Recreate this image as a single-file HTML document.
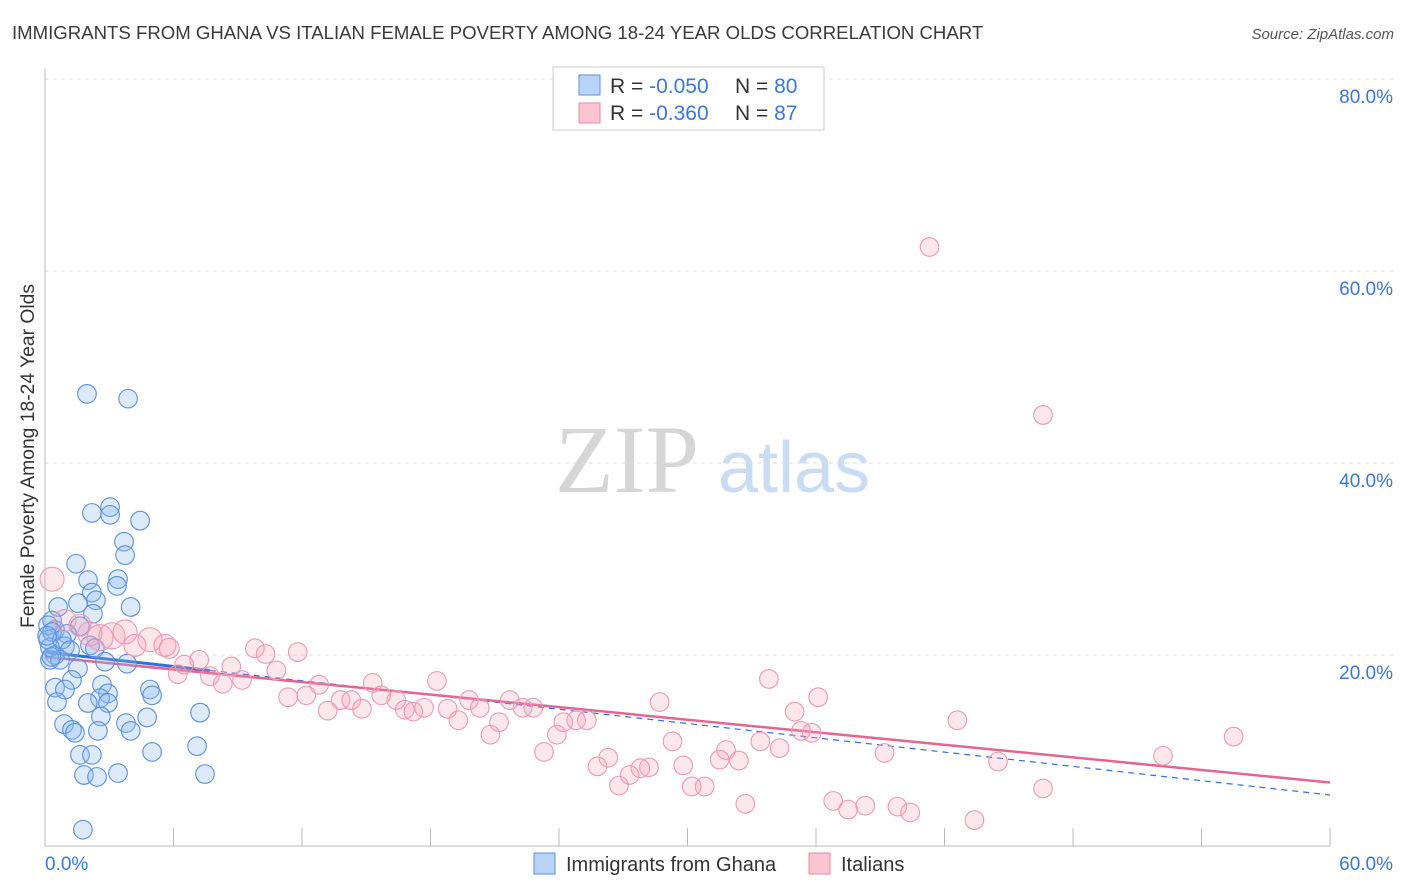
<!DOCTYPE html>
<html><head><meta charset="utf-8"><style>
body{margin:0;background:#fff;font-family:"Liberation Sans",sans-serif;}
svg{display:block}
</style></head><body>
<svg id="chart" width="1406" height="892" xmlns="http://www.w3.org/2000/svg">
<text x="12" y="39" font-size="18.6" fill="#3a3a3a">IMMIGRANTS FROM GHANA VS ITALIAN FEMALE POVERTY AMONG 18-24 YEAR OLDS CORRELATION CHART</text>
<text x="1394" y="39" font-size="15" fill="#555" font-style="italic" text-anchor="end">Source: ZipAtlas.com</text>
<g>
<text x="555" y="492" font-family="Liberation Serif,serif" font-size="96" fill="#d6d6d6">ZIP</text>
<text x="718" y="492" font-size="72" fill="#c9dcf3">atlas</text>
</g>
<g id="grid"></g>
<g id="axes"></g>
<g id="lines"></g>
<g id="pts"></g>
<g>
<rect x="553" y="67" width="271" height="63" fill="#fff" stroke="#ccc"/>
<rect x="579" y="75" width="21" height="20" fill="#b9d3f5" stroke="#5b8fe0"/>
<rect x="579" y="103" width="21" height="20" fill="#f9c5d3" stroke="#e889a6"/>
<text x="610" y="93" font-size="21" fill="#333">R = <tspan fill="#3a78d8">-0.050</tspan></text>
<text x="735" y="93" font-size="21" fill="#333">N = <tspan fill="#3a78d8">80</tspan></text>
<text x="610" y="120" font-size="21" fill="#333">R =  <tspan fill="#3a78d8">-0.360</tspan></text>
<text x="735" y="120" font-size="21" fill="#333">N =  <tspan fill="#3a78d8">87</tspan></text>
</g>
<text transform="translate(34,456) rotate(-90)" font-size="19.3" fill="#333" text-anchor="middle">Female Poverty Among 18-24 Year Olds</text>
<g>
<rect x="534" y="853" width="21" height="21" fill="#b9d3f5" stroke="#5b8fe0"/>
<text x="566" y="871" font-size="20" fill="#333">Immigrants from Ghana</text>
<rect x="809" y="853" width="21" height="21" fill="#f9c5d3" stroke="#e889a6"/>
<text x="841" y="871" font-size="20" fill="#333">Italians</text>
</g>
</svg>
<script>
const xTicks=[0,60];
const yTicks=[20,40,60,80];
const blueX=[1.96,3.88,3.04,3.04,2.19,4.44,3.69,3.74,1.45,3.41,2.01,3.36,2.19,2.38,1.54,4.0,0.61,2.24,0.33,1.63,0.47,1.03,0.14,2.10,0.93,2.33,0.47,0.23,2.80,3.83,1.54,1.26,0.47,0.93,2.66,4.9,2.94,5.0,2.57,0.56,2.0,2.94,7.24,2.61,4.77,0.89,3.78,1.26,1.40,4.0,2.47,7.1,5.0,1.63,2.19,1.82,2.43,3.41,7.47,1.77,0.14,0.23,0.33,0.79,1.17,0.7,0.1,0.3];
const blueY=[47.2,46.7,35.4,34.6,34.8,34.0,31.8,30.4,29.5,27.9,27.8,27.2,26.5,25.7,25.4,25.0,25.0,24.3,23.6,23.0,22.6,22.2,21.6,21.0,20.9,20.7,20.0,19.5,19.3,19.1,18.6,17.4,16.6,16.4,16.9,16.4,16.0,15.8,15.5,15.1,15.0,15.0,14.0,13.6,13.5,12.8,12.9,12.2,11.9,12.1,12.1,10.5,9.9,9.6,9.6,7.5,7.3,7.7,7.6,1.8,23.1,20.8,22.4,21.6,20.5,19.5,22.0,19.8];
const pinkX=[0.33,0.93,1.63,2.1,2.57,3.13,3.74,4.9,4.2,5.6,5.8,9.8,10.3,11.8,7.2,6.5,6.2,7.7,8.7,8.3,9.2,10.8,12.8,15.3,18.3,11.35,12.2,13.8,14.3,15.7,16.4,13.2,14.8,16.8,17.2,17.7,18.8,19.8,20.3,21.7,22.3,22.8,19.3,21.2,20.8,24.2,24.8,25.3,23.9,23.3,26.3,25.8,27.3,27.8,28.2,26.8,28.7,29.3,29.8,30.2,30.8,31.5,31.8,32.4,33.4,33.8,34.3,35.0,35.3,35.8,36.1,32.7,36.8,37.5,38.3,39.8,40.4,39.2,42.6,43.4,44.5,46.6,52.2,55.5,41.3,46.6];
const pinkY=[27.9,23.6,23.1,22.2,21.8,22.0,22.4,21.6,21.0,21.0,20.7,20.7,20.1,20.3,19.5,19.0,18.0,17.8,18.8,17.0,17.4,18.4,16.9,17.1,17.3,15.6,15.8,15.3,15.3,15.8,15.3,14.2,14.4,14.3,14.1,14.5,14.4,15.3,14.5,15.3,14.5,14.5,13.2,13.0,11.7,13.0,13.2,13.2,11.7,9.9,9.3,8.4,7.5,8.2,8.3,6.4,15.1,11.0,8.5,6.3,6.3,9.1,10.1,9.0,11.0,17.5,10.3,14.1,12.1,11.9,15.6,4.5,4.8,3.9,4.3,4.2,3.6,9.8,13.2,2.8,8.9,6.1,9.5,11.5,62.5,45.0];
const pinkBig=[12,11,11,12,13,13,12,12,11,11,10];
const blueFit=[20.3,-0.248];
const pinkFit=[19.8,-0.218];
const X=v=>45+v/60*1285, Y=v=>847-v/20*192;
const NS="http://www.w3.org/2000/svg";
function mk(t,a,p){const e=document.createElementNS(NS,t);for(const k in a)e.setAttribute(k,a[k]);document.getElementById(p).appendChild(e);return e;}
yTicks.forEach(t=>{
 const g=mk('line',{x1:45,x2:1395,y1:Y(t),y2:Y(t),stroke:'#ddd','stroke-dasharray':'4,4'},'grid');
 
 
 const l=mk('text',{x:1393,y:Y(t)+24,'font-size':19,fill:'#3a78d8','text-anchor':'end'},'axes');
 l.textContent=t.toFixed(1)+'%';
 
 
});
mk('line',{x1:45,x2:45,y1:68,y2:846,stroke:'#bbb'},'axes');
mk('line',{x1:45,x2:1330,y1:846,y2:846,stroke:'#bbb'},'axes');
for(let i=0;i<=10;i++){mk('line',{x1:X(i*6),x2:X(i*6),y1:828,y2:846,stroke:'#bbb'},'axes');}
xTicks.forEach((t,i)=>{
 const l=mk('text',{x:i?1393:45,y:870,'font-size':19,fill:'#3a78d8','text-anchor':i?'end':'start'},'axes');
 l.textContent=t.toFixed(1)+'%';
 
 
});
blueX.forEach((v,i)=>{
 const c=mk('circle',{cx:X(v),cy:Y(blueY[i]),r:9.3,fill:'rgba(140,185,240,0.3)',stroke:'#5b90e0','stroke-width':1.1},'pts');
 
 
});
pinkX.forEach((v,i)=>{
 const c=mk('circle',{cx:X(v),cy:Y(pinkY[i]),r:pinkBig[i]||9.3,fill:'rgba(245,160,185,0.25)',stroke:'#ec9ab3','stroke-width':1.1},'pts');
 
 
});
const bl=mk('line',{x1:X(0),y1:Y(blueFit[0]),x2:X(7.7),y2:Y(blueFit[0]+blueFit[1]*7.7),stroke:'#2f6fd6','stroke-width':3},'lines');


const bd=mk('line',{x1:X(7.7),y1:Y(blueFit[0]+blueFit[1]*7.7),x2:X(60),y2:Y(blueFit[0]+blueFit[1]*60),stroke:'#2f6fd6','stroke-width':1.2,'stroke-dasharray':'6,5'},'lines');


const pl=mk('line',{x1:X(0),y1:Y(pinkFit[0]),x2:X(60),y2:Y(pinkFit[0]+pinkFit[1]*60),stroke:'#e4658f','stroke-width':2.5},'lines');


</script>
</body></html>
